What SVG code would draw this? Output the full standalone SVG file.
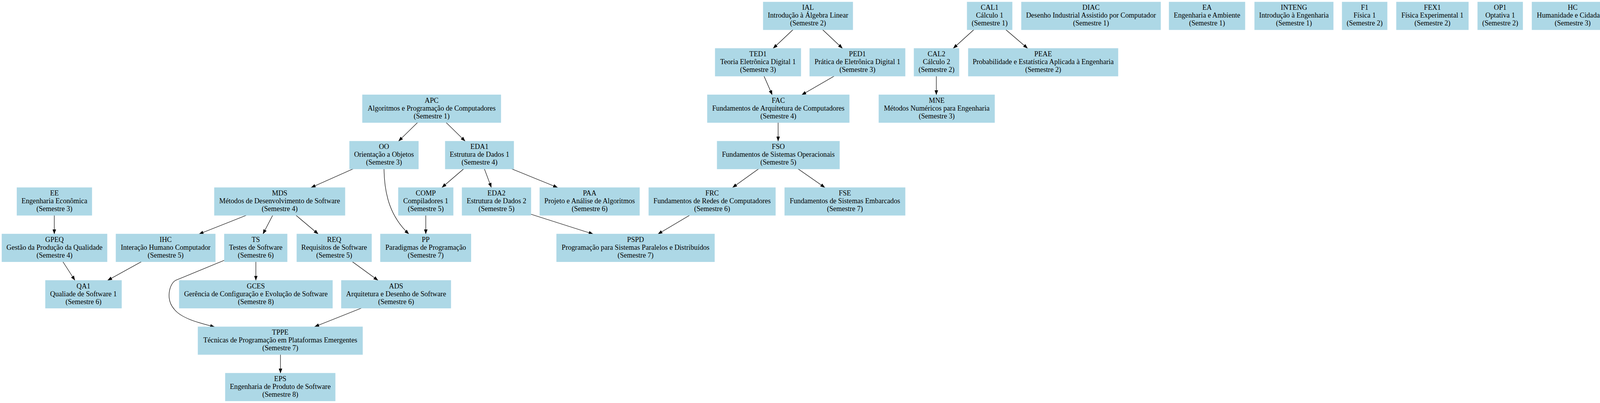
<svg xmlns="http://www.w3.org/2000/svg" width="6500" height="1031" viewBox="0 0 6500 1031">
<style>
.n rect{fill:#add8e6;stroke:#add8e6;stroke-width:1.2}
.n text{font-family:"Liberation Serif","Times New Roman",serif;font-size:18.15px;text-anchor:middle;fill:#000}
.e path{fill:none;stroke:#000;stroke-width:1.2;marker-end:url(#ah)}
</style>
<defs>
<marker id="ah" markerUnits="userSpaceOnUse" markerWidth="13" markerHeight="9" refX="12" refY="4.5" orient="auto">
<path d="M0,0 L12,4.5 L0,9 z" fill="#000"/>
</marker>
</defs>
<rect width="6500" height="1031" fill="#fff"/>
<g id="edges" class="e">
<path d="M2030,76 L1979,124"/>
<path d="M2106,76 L2157,124"/>
<path d="M1956,195 L1977,243"/>
<path d="M2135,195 L2052,243"/>
<path d="M2493,76 L2440,124"/>
<path d="M2575,76 L2631,124"/>
<path d="M2397,195 L2397,243"/>
<path d="M1992,313.4 L1992,361.4"/>
<path d="M1942,432 L1875,480"/>
<path d="M2043,432 L2112,480"/>
<path d="M1765,551 L1684,599"/>
<path d="M1359,548 L1519,599"/>
<path d="M4247,76 L4247,124"/>
<path d="M4247,195 L4247,243"/>
<path d="M4247,313.4 L4247,361.4"/>
<path d="M4450,76 L4450,124"/>
<path d="M5746,76 L5746,124"/>
<path d="M1069,313.4 L1020,361.4"/>
<path d="M1142,313.4 L1191,361.4"/>
<path d="M904,432 L796,480"/>
<path d="M983,432 C984,500 1000,555 1047,599"/>
<path d="M1187,432 L1131,480"/>
<path d="M1240,432 L1258,480"/>
<path d="M1310,432 L1428,480"/>
<path d="M1090,551 L1090,599"/>
<path d="M630,551 L509,599"/>
<path d="M698,551 L673,599"/>
<path d="M758,551 L815,599"/>
<path d="M139,551 L139,599"/>
<path d="M161,669.5 L192,717.5"/>
<path d="M362,669.5 L275,717.5"/>
<path d="M655,669.5 L655,717.5"/>
<path d="M574,666 L450,717 C434,725 423,765 446,791 C462,812 500,824 550,836.5"/>
<path d="M902,669.5 L968,717.5"/>
<path d="M926,788 L805,836"/>
<path d="M718,907 L718,955"/>
</g>
<g id="IAL" class="n"><rect x="1954" y="5.3" width="229" height="70.7"/><text x="2068.5" y="25.3"><tspan x="2068.5" y="25.3">IAL</tspan><tspan x="2068.5" y="45.3">Introdução à Álgebra Linear</tspan><tspan x="2068.5" y="65.3">(Semestre 2)</tspan></text></g>
<g id="CAL1" class="n"><rect x="2476" y="5.3" width="115" height="70.7"/><text x="2533.5" y="25.3"><tspan x="2533.5" y="25.3">CAL1</tspan><tspan x="2533.5" y="45.3">Cálculo 1</tspan><tspan x="2533.5" y="65.3">(Semestre 1)</tspan></text></g>
<g id="DIAC" class="n"><rect x="2615" y="5.3" width="356" height="70.7"/><text x="2793" y="25.3"><tspan x="2793" y="25.3">DIAC</tspan><tspan x="2793" y="45.3">Desenho Industrial Assistido por Computador</tspan><tspan x="2793" y="65.3">(Semestre 1)</tspan></text></g>
<g id="EA" class="n"><rect x="2993" y="5.3" width="194" height="70.7"/><text x="3090" y="25.3"><tspan x="3090" y="25.3">EA</tspan><tspan x="3090" y="45.3">Engenharia e Ambiente</tspan><tspan x="3090" y="65.3">(Semestre 1)</tspan></text></g>
<g id="INTENG" class="n"><rect x="3212" y="5.3" width="201" height="70.7"/><text x="3312.5" y="25.3"><tspan x="3312.5" y="25.3">INTENG</tspan><tspan x="3312.5" y="45.3">Introdução à Engenharia</tspan><tspan x="3312.5" y="65.3">(Semestre 1)</tspan></text></g>
<g id="F1" class="n"><rect x="3436" y="5.3" width="115" height="70.7"/><text x="3493.5" y="25.3"><tspan x="3493.5" y="25.3">F1</tspan><tspan x="3493.5" y="45.3">Física 1</tspan><tspan x="3493.5" y="65.3">(Semestre 2)</tspan></text></g>
<g id="FEX1" class="n"><rect x="3575" y="5.3" width="184" height="70.7"/><text x="3667" y="25.3"><tspan x="3667" y="25.3">FEX1</tspan><tspan x="3667" y="45.3">Física Experimental 1</tspan><tspan x="3667" y="65.3">(Semestre 2)</tspan></text></g>
<g id="OP1" class="n"><rect x="3783" y="5.3" width="115" height="70.7"/><text x="3840.5" y="25.3"><tspan x="3840.5" y="25.3">OP1</tspan><tspan x="3840.5" y="45.3">Optativa 1</tspan><tspan x="3840.5" y="65.3">(Semestre 2)</tspan></text></g>
<g id="HC" class="n"><rect x="3922" y="5.3" width="208" height="70.7"/><text x="4026" y="25.3"><tspan x="4026" y="25.3">HC</tspan><tspan x="4026" y="45.3">Humanidade e Cidadania</tspan><tspan x="4026" y="65.3">(Semestre 3)</tspan></text></g>
<g id="MD1" class="n"><rect x="4152" y="5.3" width="190" height="70.7"/><text x="4247" y="25.3"><tspan x="4247" y="25.3">MD1</tspan><tspan x="4247" y="45.3">Matemática Discreta 1</tspan><tspan x="4247" y="65.3">(Semestre 3)</tspan></text></g>
<g id="PI1" class="n"><rect x="4365" y="5.3" width="169" height="70.7"/><text x="4449.5" y="25.3"><tspan x="4449.5" y="25.3">PI1</tspan><tspan x="4449.5" y="45.3">Projeto Integrador 1</tspan><tspan x="4449.5" y="65.3">(Semestre 4)</tspan></text></g>
<g id="OP2" class="n"><rect x="4557" y="5.3" width="116" height="70.7"/><text x="4615" y="25.3"><tspan x="4615" y="25.3">OP2</tspan><tspan x="4615" y="45.3">Optativa 2</tspan><tspan x="4615" y="65.3">(Semestre 7)</tspan></text></g>
<g id="OP3" class="n"><rect x="4696" y="5.3" width="116" height="70.7"/><text x="4754" y="25.3"><tspan x="4754" y="25.3">OP3</tspan><tspan x="4754" y="45.3">Optativa 3</tspan><tspan x="4754" y="65.3">(Semestre 7)</tspan></text></g>
<g id="OP4" class="n"><rect x="4835" y="5.3" width="116" height="70.7"/><text x="4893" y="25.3"><tspan x="4893" y="25.3">OP4</tspan><tspan x="4893" y="45.3">Optativa 4</tspan><tspan x="4893" y="65.3">(Semestre 8)</tspan></text></g>
<g id="ES" class="n"><rect x="4974" y="5.3" width="195" height="70.7"/><text x="5071.5" y="25.3"><tspan x="5071.5" y="25.3">ES</tspan><tspan x="5071.5" y="45.3">Estágio Supervisionado</tspan><tspan x="5071.5" y="65.3">(Semestre 8)</tspan></text></g>
<g id="OP5" class="n"><rect x="5192" y="5.3" width="115" height="70.7"/><text x="5249.5" y="25.3"><tspan x="5249.5" y="25.3">OP5</tspan><tspan x="5249.5" y="45.3">Optativa 5</tspan><tspan x="5249.5" y="65.3">(Semestre 9)</tspan></text></g>
<g id="OP6" class="n"><rect x="5330" y="5.3" width="116" height="70.7"/><text x="5388" y="25.3"><tspan x="5388" y="25.3">OP6</tspan><tspan x="5388" y="45.3">Optativa 6</tspan><tspan x="5388" y="65.3">(Semestre 9)</tspan></text></g>
<g id="OP7" class="n"><rect x="5469" y="5.3" width="116" height="70.7"/><text x="5527" y="25.3"><tspan x="5527" y="25.3">OP7</tspan><tspan x="5527" y="45.3">Optativa 7</tspan><tspan x="5527" y="65.3">(Semestre 9)</tspan></text></g>
<g id="TCC1" class="n"><rect x="5608" y="5.3" width="276" height="70.7"/><text x="5746" y="25.3"><tspan x="5746" y="25.3">TCC1</tspan><tspan x="5746" y="45.3">Trabalho de Conclusão de Curso 1</tspan><tspan x="5746" y="65.3">(Semestre 9)</tspan></text></g>
<g id="AEES" class="n"><rect x="5907" y="5.3" width="291" height="70.7"/><text x="6052.5" y="25.3"><tspan x="6052.5" y="25.3">AEES</tspan><tspan x="6052.5" y="45.3">Atividade de Extensão Eng.Software</tspan><tspan x="6052.5" y="65.3">(Semestre 10)</tspan></text></g>
<g id="OP8" class="n"><rect x="6222" y="5.3" width="125" height="70.7"/><text x="6284.5" y="25.3"><tspan x="6284.5" y="25.3">OP8</tspan><tspan x="6284.5" y="45.3">Optativa 8</tspan><tspan x="6284.5" y="65.3">(Semestre 10)</tspan></text></g>
<g id="OP9" class="n"><rect x="6370" y="5.3" width="125" height="70.7"/><text x="6432.5" y="25.3"><tspan x="6432.5" y="25.3">OP9</tspan><tspan x="6432.5" y="45.3">Optativa 9</tspan><tspan x="6432.5" y="65.3">(Semestre 10)</tspan></text></g>
<g id="TED1" class="n"><rect x="1831" y="124" width="219" height="70.7"/><text x="1940.5" y="144"><tspan x="1940.5" y="144">TED1</tspan><tspan x="1940.5" y="164">Teoria Eletrônica Digital 1</tspan><tspan x="1940.5" y="184">(Semestre 3)</tspan></text></g>
<g id="PED1" class="n"><rect x="2073" y="124" width="244" height="70.7"/><text x="2195" y="144"><tspan x="2195" y="144">PED1</tspan><tspan x="2195" y="164">Prática de Eletrônica Digital 1</tspan><tspan x="2195" y="184">(Semestre 3)</tspan></text></g>
<g id="CAL2" class="n"><rect x="2340" y="124" width="115" height="70.7"/><text x="2397.5" y="144"><tspan x="2397.5" y="144">CAL2</tspan><tspan x="2397.5" y="164">Cálculo 2</tspan><tspan x="2397.5" y="184">(Semestre 2)</tspan></text></g>
<g id="PEAE" class="n"><rect x="2479" y="124" width="383" height="70.7"/><text x="2670.5" y="144"><tspan x="2670.5" y="144">PEAE</tspan><tspan x="2670.5" y="164">Probabilidade e Estatística Aplicada à Engenharia</tspan><tspan x="2670.5" y="184">(Semestre 2)</tspan></text></g>
<g id="MD2" class="n"><rect x="4152" y="124" width="190" height="70.7"/><text x="4247" y="144"><tspan x="4247" y="144">MD2</tspan><tspan x="4247" y="164">Matemática Discreta 2</tspan><tspan x="4247" y="184">(Semestre 4)</tspan></text></g>
<g id="PI2" class="n"><rect x="4365" y="124" width="169" height="70.7"/><text x="4449.5" y="144"><tspan x="4449.5" y="144">PI2</tspan><tspan x="4449.5" y="164">Projeto Integrador 2</tspan><tspan x="4449.5" y="184">(Semestre 9)</tspan></text></g>
<g id="TCC2" class="n"><rect x="5608" y="124" width="276" height="70.7"/><text x="5746" y="144"><tspan x="5746" y="144">TCC2</tspan><tspan x="5746" y="164">Trabalho de Conclusão de Curso 2</tspan><tspan x="5746" y="184">(Semestre 10)</tspan></text></g>
<g id="APC" class="n"><rect x="928" y="242.7" width="354" height="70.7"/><text x="1105" y="262.7"><tspan x="1105" y="262.7">APC</tspan><tspan x="1105" y="282.7">Algoritmos e Programação de Computadores</tspan><tspan x="1105" y="302.7">(Semestre 1)</tspan></text></g>
<g id="FAC" class="n"><rect x="1811" y="242.7" width="363" height="70.7"/><text x="1992.5" y="262.7"><tspan x="1992.5" y="262.7">FAC</tspan><tspan x="1992.5" y="282.7">Fundamentos de Arquitetura de Computadores</tspan><tspan x="1992.5" y="302.7">(Semestre 4)</tspan></text></g>
<g id="MNE" class="n"><rect x="2250" y="242.7" width="296" height="70.7"/><text x="2398" y="262.7"><tspan x="2398" y="262.7">MNE</tspan><tspan x="2398" y="282.7">Métodos Numéricos para Engenharia</tspan><tspan x="2398" y="302.7">(Semestre 3)</tspan></text></g>
<g id="SBD1" class="n"><rect x="4119" y="242.7" width="256" height="70.7"/><text x="4247" y="262.7"><tspan x="4247" y="262.7">SBD1</tspan><tspan x="4247" y="282.7">Sistemas de Bancos de Dados 1</tspan><tspan x="4247" y="302.7">(Semestre 5)</tspan></text></g>
<g id="OO" class="n"><rect x="895" y="361.4" width="176" height="70.7"/><text x="983" y="381.4"><tspan x="983" y="381.4">OO</tspan><tspan x="983" y="401.4">Orientação a Objetos</tspan><tspan x="983" y="421.4">(Semestre 3)</tspan></text></g>
<g id="EDA1" class="n"><rect x="1140" y="361.4" width="175" height="70.7"/><text x="1227.5" y="381.4"><tspan x="1227.5" y="381.4">EDA1</tspan><tspan x="1227.5" y="401.4">Estrutura de Dados 1</tspan><tspan x="1227.5" y="421.4">(Semestre 4)</tspan></text></g>
<g id="FSO" class="n"><rect x="1836" y="361.4" width="313" height="70.7"/><text x="1992.5" y="381.4"><tspan x="1992.5" y="381.4">FSO</tspan><tspan x="1992.5" y="401.4">Fundamentos de Sistemas Operacionais</tspan><tspan x="1992.5" y="421.4">(Semestre 5)</tspan></text></g>
<g id="SBD2" class="n"><rect x="4119" y="361.4" width="256" height="70.7"/><text x="4247" y="381.4"><tspan x="4247" y="381.4">SBD2</tspan><tspan x="4247" y="401.4">Sistemas de Bancos de Dados 2</tspan><tspan x="4247" y="421.4">(Semestre 6)</tspan></text></g>
<g id="EE" class="n"><rect x="43.5" y="480.1" width="191.5" height="70.7"/><text x="139.25" y="500.1"><tspan x="139.25" y="500.1">EE</tspan><tspan x="139.25" y="520.1">Engenharia Econômica</tspan><tspan x="139.25" y="540.1">(Semestre 3)</tspan></text></g>
<g id="MDS" class="n"><rect x="549" y="480.1" width="334" height="70.7"/><text x="716" y="500.1"><tspan x="716" y="500.1">MDS</tspan><tspan x="716" y="520.1">Métodos de Desenvolvimento de Software</tspan><tspan x="716" y="540.1">(Semestre 4)</tspan></text></g>
<g id="COMP" class="n"><rect x="1020" y="480.1" width="140" height="70.7"/><text x="1090" y="500.1"><tspan x="1090" y="500.1">COMP</tspan><tspan x="1090" y="520.1">Compiladores 1</tspan><tspan x="1090" y="540.1">(Semestre 5)</tspan></text></g>
<g id="EDA2" class="n"><rect x="1183" y="480.1" width="176" height="70.7"/><text x="1271" y="500.1"><tspan x="1271" y="500.1">EDA2</tspan><tspan x="1271" y="520.1">Estrutura de Dados 2</tspan><tspan x="1271" y="540.1">(Semestre 5)</tspan></text></g>
<g id="PAA" class="n"><rect x="1382" y="480.1" width="255" height="70.7"/><text x="1509.5" y="500.1"><tspan x="1509.5" y="500.1">PAA</tspan><tspan x="1509.5" y="520.1">Projeto e Análise de Algoritmos</tspan><tspan x="1509.5" y="540.1">(Semestre 6)</tspan></text></g>
<g id="FRC" class="n"><rect x="1661" y="480.1" width="324" height="70.7"/><text x="1823" y="500.1"><tspan x="1823" y="500.1">FRC</tspan><tspan x="1823" y="520.1">Fundamentos de Redes de Computadores</tspan><tspan x="1823" y="540.1">(Semestre 6)</tspan></text></g>
<g id="FSE" class="n"><rect x="2009" y="480.1" width="308" height="70.7"/><text x="2163" y="500.1"><tspan x="2163" y="500.1">FSE</tspan><tspan x="2163" y="520.1">Fundamentos de Sistemas Embarcados</tspan><tspan x="2163" y="540.1">(Semestre 7)</tspan></text></g>
<g id="GPEQ" class="n"><rect x="5" y="598.8" width="269" height="70.7"/><text x="139.5" y="618.8"><tspan x="139.5" y="618.8">GPEQ</tspan><tspan x="139.5" y="638.8">Gestão da Produção da Qualidade</tspan><tspan x="139.5" y="658.8">(Semestre 4)</tspan></text></g>
<g id="IHC" class="n"><rect x="297" y="598.8" width="254" height="70.7"/><text x="424" y="618.8"><tspan x="424" y="618.8">IHC</tspan><tspan x="424" y="638.8">Interação Humano Computador</tspan><tspan x="424" y="658.8">(Semestre 5)</tspan></text></g>
<g id="TS" class="n"><rect x="574.5" y="598.8" width="160.5" height="70.7"/><text x="654.75" y="618.8"><tspan x="654.75" y="618.8">TS</tspan><tspan x="654.75" y="638.8">Testes de Software</tspan><tspan x="654.75" y="658.8">(Semestre 6)</tspan></text></g>
<g id="REQ" class="n"><rect x="760" y="598.8" width="191" height="70.7"/><text x="855.5" y="618.8"><tspan x="855.5" y="618.8">REQ</tspan><tspan x="855.5" y="638.8">Requisitos de Software</tspan><tspan x="855.5" y="658.8">(Semestre 5)</tspan></text></g>
<g id="PP" class="n"><rect x="974" y="598.8" width="231.5" height="70.7"/><text x="1089.75" y="618.8"><tspan x="1089.75" y="618.8">PP</tspan><tspan x="1089.75" y="638.8">Paradigmas de Programação</tspan><tspan x="1089.75" y="658.8">(Semestre 7)</tspan></text></g>
<g id="PSPD" class="n"><rect x="1425" y="598.8" width="404" height="70.7"/><text x="1627" y="618.8"><tspan x="1627" y="618.8">PSPD</tspan><tspan x="1627" y="638.8">Programação para Sistemas Paralelos e Distribuídos</tspan><tspan x="1627" y="658.8">(Semestre 7)</tspan></text></g>
<g id="QA1" class="n"><rect x="116.5" y="717.5" width="194.5" height="70.7"/><text x="213.75" y="737.5"><tspan x="213.75" y="737.5">QA1</tspan><tspan x="213.75" y="757.5">Qualiade de Software 1</tspan><tspan x="213.75" y="777.5">(Semestre 6)</tspan></text></g>
<g id="GCES" class="n"><rect x="459" y="717.5" width="392" height="70.7"/><text x="655" y="737.5"><tspan x="655" y="737.5">GCES</tspan><tspan x="655" y="757.5">Gerência de Configuração e Evolução de Software</tspan><tspan x="655" y="777.5">(Semestre 8)</tspan></text></g>
<g id="ADS" class="n"><rect x="874" y="717.5" width="280" height="70.7"/><text x="1014" y="737.5"><tspan x="1014" y="737.5">ADS</tspan><tspan x="1014" y="757.5">Arquitetura e Desenho de Software</tspan><tspan x="1014" y="777.5">(Semestre 6)</tspan></text></g>
<g id="TPPE" class="n"><rect x="507" y="836.2" width="421" height="70.7"/><text x="717.5" y="856.2"><tspan x="717.5" y="856.2">TPPE</tspan><tspan x="717.5" y="876.2">Técnicas de Programação em Plataformas Emergentes</tspan><tspan x="717.5" y="896.2">(Semestre 7)</tspan></text></g>
<g id="EPS" class="n"><rect x="577" y="954.9" width="281" height="70.7"/><text x="717.5" y="974.9"><tspan x="717.5" y="974.9">EPS</tspan><tspan x="717.5" y="994.9">Engenharia de Produto de Software</tspan><tspan x="717.5" y="1014.9">(Semestre 8)</tspan></text></g>
</svg>
